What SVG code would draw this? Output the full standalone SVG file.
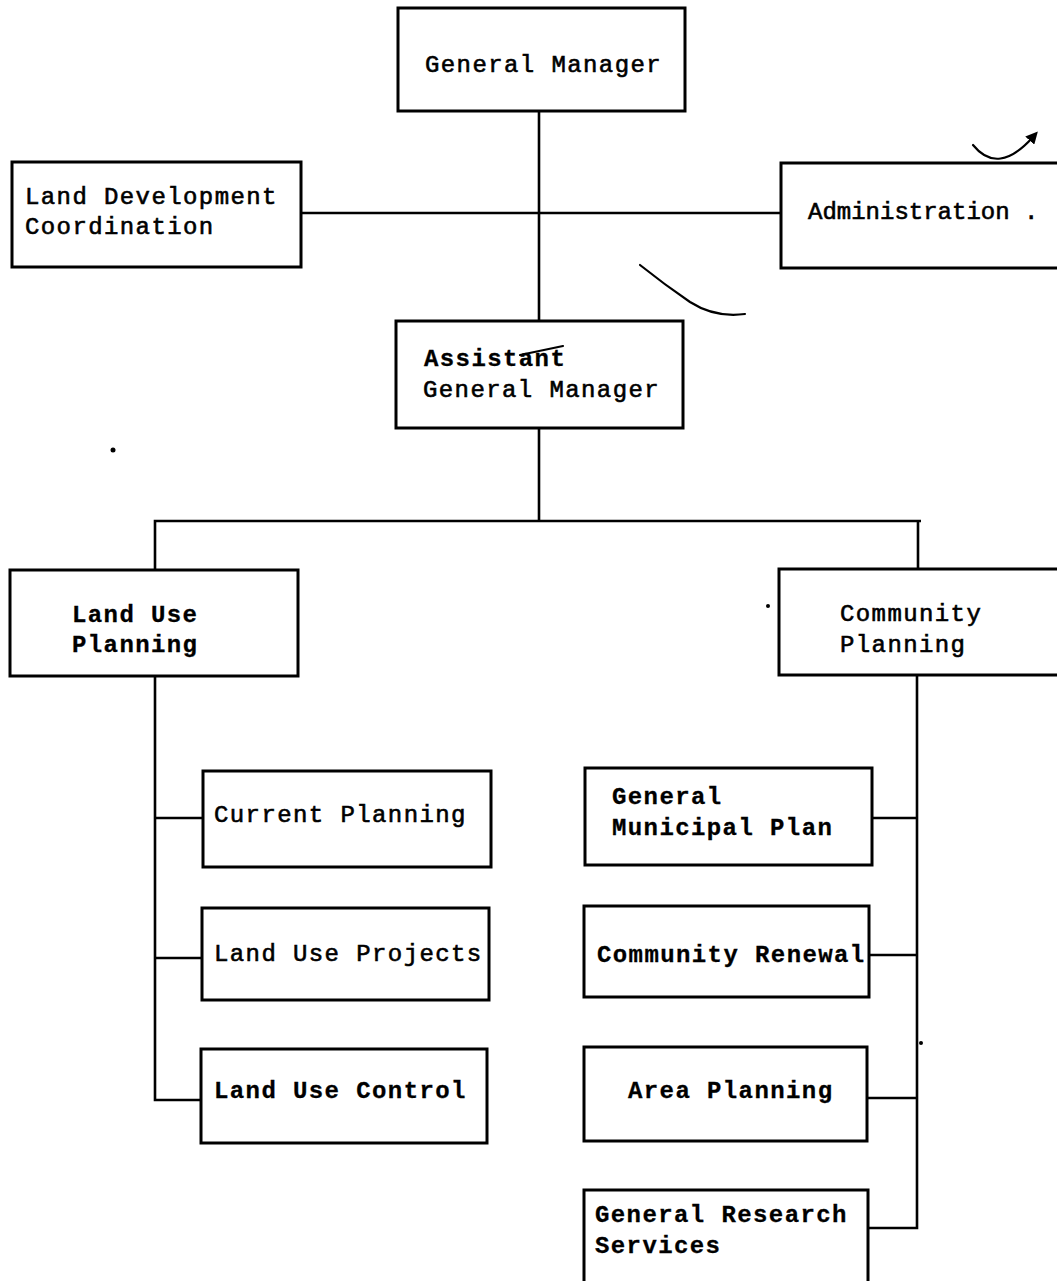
<svg xmlns="http://www.w3.org/2000/svg" width="1057" height="1281" viewBox="0 0 1057 1281">
  <style>
    .box { fill: #ffffff; stroke: #000000; stroke-width: 3; }
    .link { fill: none; stroke: #000000; stroke-width: 2.6; }
    .ink { fill: none; stroke: #000000; stroke-width: 2.2; stroke-linecap: round; }
    .t { font-family: "Liberation Mono", "Courier New", monospace; font-size: 24px; letter-spacing: 1.4px; fill: #000000; stroke: #000000; stroke-width: 0.6px; }
    .b { font-weight: bold; stroke-width: 0.3px; }
    .tight { letter-spacing: 0; }
  </style>
  <defs>
    <marker id="pen-head" viewBox="0 0 10 10" refX="4" refY="5" markerWidth="5.5" markerHeight="5.5" orient="auto">
      <path d="M0,0 L10,5 L0,10 z" fill="#000000"/>
    </marker>
  </defs>
  <rect width="1057" height="1281" fill="#ffffff"/>

  <!-- connectors -->
  <g id="connectors">
    <path class="link" d="M539,112 V322"/>
    <path class="link" d="M301,213 H781"/>
    <path class="link" d="M539,428 V521"/>
    <path class="link" d="M155,570 V521 H921 M918,521 V570"/>
    <path class="link" d="M155,676 V1100 H202 M155,818 H203 M155,958 H202"/>
    <path class="link" d="M917,675 V1228 H866 M871,818 H917 M870,955 H917 M868,1098 H917"/>
  </g>

  <!-- nodes -->
  <g id="general-manager">
    <rect class="box" x="398" y="8" width="287" height="103"/>
    <text class="t" x="425" y="72">General Manager</text>
  </g>
  <g id="land-development-coordination">
    <rect class="box" x="12" y="162" width="289" height="105"/>
    <text class="t" x="25" y="204">Land Development</text>
    <text class="t" x="25" y="234">Coordination</text>
  </g>
  <g id="administration">
    <rect class="box" x="781" y="163" width="290" height="105"/>
    <text class="t tight" x="808" y="219">Administration .</text>
  </g>
  <g id="assistant-general-manager">
    <rect class="box" x="396" y="321" width="287" height="107"/>
    <text class="t b" x="424" y="366">Assistant</text>
    <text class="t" x="423" y="397">General Manager</text>
    <path class="ink" d="M520,355 L563,346"/>
  </g>
  <g id="land-use-planning">
    <rect class="box" x="10" y="570" width="288" height="106"/>
    <text class="t b" x="72" y="622">Land Use</text>
    <text class="t b" x="72" y="652">Planning</text>
  </g>
  <g id="community-planning">
    <rect class="box" x="779" y="569" width="290" height="106"/>
    <text class="t" x="840" y="621">Community</text>
    <text class="t" x="840" y="652">Planning</text>
  </g>
  <g id="current-planning">
    <rect class="box" x="203" y="771" width="288" height="96"/>
    <text class="t" x="214" y="822">Current Planning</text>
  </g>
  <g id="land-use-projects">
    <rect class="box" x="202" y="908" width="287" height="92"/>
    <text class="t" x="214" y="961">Land Use Projects</text>
  </g>
  <g id="land-use-control">
    <rect class="box" x="201" y="1049" width="286" height="94"/>
    <text class="t b" x="214" y="1098">Land Use Control</text>
  </g>
  <g id="general-municipal-plan">
    <rect class="box" x="585" y="768" width="287" height="97"/>
    <text class="t b" x="612" y="804">General</text>
    <text class="t b" x="612" y="835">Municipal Plan</text>
  </g>
  <g id="community-renewal">
    <rect class="box" x="584" y="906" width="285" height="91"/>
    <text class="t b" x="597" y="962">Community Renewal</text>
  </g>
  <g id="area-planning">
    <rect class="box" x="584" y="1047" width="283" height="94"/>
    <text class="t b" x="628" y="1098">Area Planning</text>
  </g>
  <g id="general-research-services">
    <rect class="box" x="584" y="1190" width="284" height="95"/>
    <text class="t b" x="595" y="1222">General Research</text>
    <text class="t b" x="595" y="1253">Services</text>
  </g>

  <!-- pen marks -->
  <g id="pen-marks">
    <path class="ink" d="M973,145 Q998,176 1033,137" marker-end="url(#pen-head)"/>
    <path class="ink" d="M640,265 Q665,285 690,302 Q715,318 745,314"/>
    <circle cx="113" cy="450" r="2.5" fill="#000"/>
    <circle cx="768" cy="606" r="2" fill="#000"/>
    <circle cx="921" cy="1043" r="2" fill="#000"/>
  </g>
</svg>
